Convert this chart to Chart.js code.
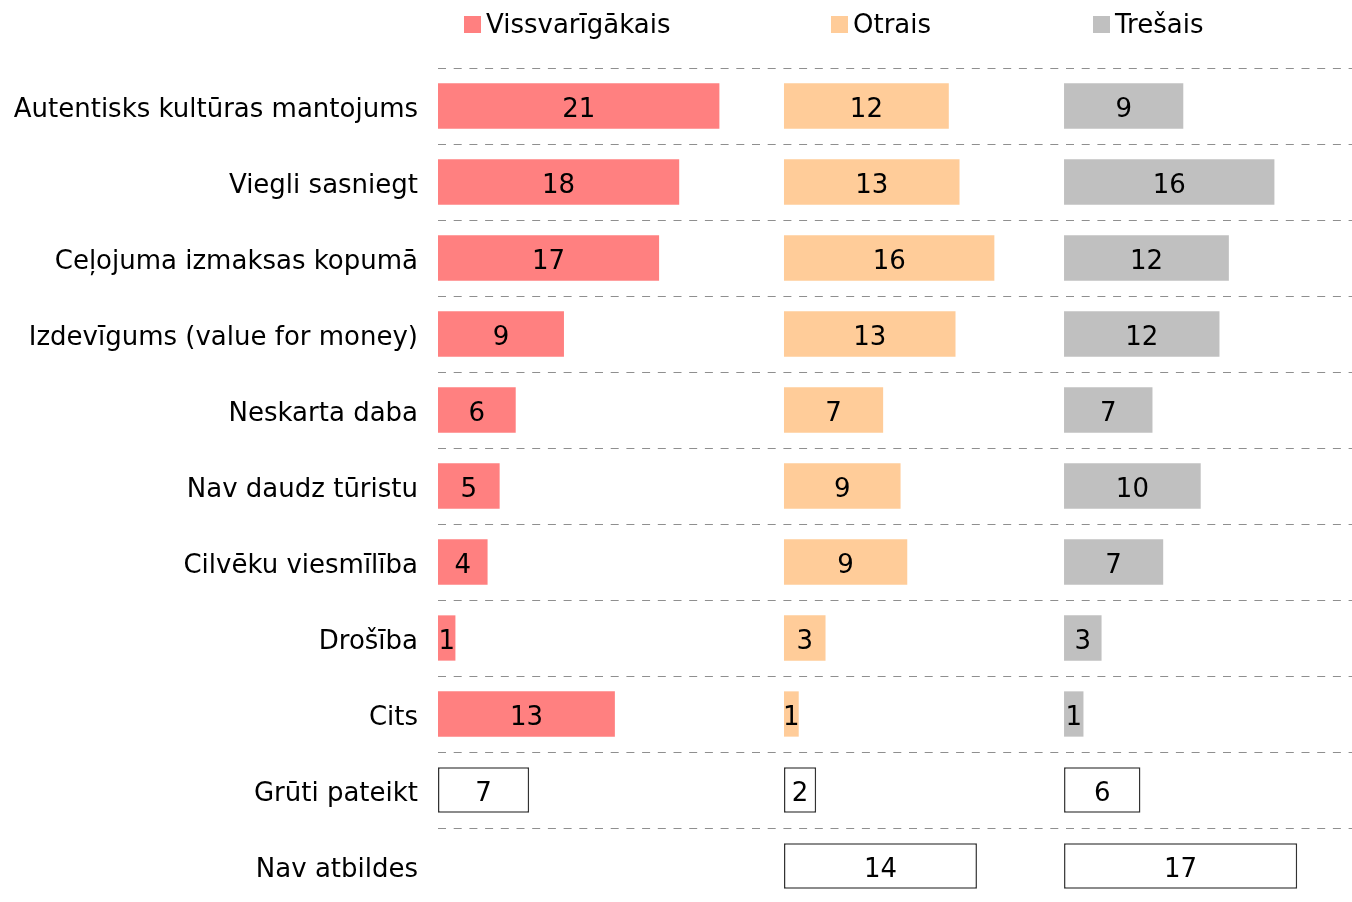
<!DOCTYPE html>
<html>
<head>
<meta charset="utf-8">
<script src="https://cdn.jsdelivr.net/npm/chart.js@4.4.1/dist/chart.umd.min.js"></script>
<style>
html,body{margin:0;padding:0;background:#fff;overflow:hidden;width:1352px;height:902px}
canvas{display:block}
</style>
</head>
<body>
<canvas id="c" width="1352" height="906" style="width:1352px;height:906px"></canvas>
<script>
// ---- data ----
const categories = [
  'Autentisks kultūras mantojums',
  'Viegli sasniegt',
  'Ceļojuma izmaksas kopumā',
  'Izdevīgums (value for money)',
  'Neskarta daba',
  'Nav daudz tūristu',
  'Cilvēku viesmīlība',
  'Drošība',
  'Cits',
  'Grūti pateikt',
  'Nav atbildes'
];
const seriesNames = ['Vissvarīgākais', 'Otrais', 'Trešais'];
const vissvarigakais = [21.0, 18.0, 16.5, 9.4, 5.8, 4.6, 3.7, 1.3, 13.2, 6.8, null];
const otrais         = [12.3, 13.1, 15.7, 12.8, 7.4, 8.7, 9.2, 3.1, 1.1, 2.4, 14.4];
const tresais        = [8.9, 15.7, 12.3, 11.6, 6.6, 10.2, 7.4, 2.8, 1.45, 5.7, 17.4];
const neutralCategories = ['Grūti pateikt', 'Nav atbildes'];

// ---- styling / layout ----
const seriesColors = ['#FF8080', '#FFCC99', '#C0C0C0'];
const panelStart = [0, 25.82, 46.72];   // where each panel begins on the shared value axis
const axisMax = 68.21;
const legendX = [464, 831, 1093];
const FONT = "'DejaVu Sans', Verdana, sans-serif";
const FONT_SIZE = 26;

const seriesValues = [vissvarigakais, otrais, tresais];

const datasets = seriesValues.map((vals, s) => ({
  label: seriesNames[s],
  rawValues: vals,
  data: vals.map(v => v == null ? null : [panelStart[s], panelStart[s] + v]),
  backgroundColor: categories.map(c => neutralCategories.includes(c) ? '#FFFFFF' : seriesColors[s]),
  borderColor: '#333333',
  borderWidth: categories.map(c => neutralCategories.includes(c) ? 1.5 : 0),
  borderSkipped: false,
  grouped: false,
  barPercentage: 0.596,
  categoryPercentage: 1.0
}));

const valueLabels = {
  id: 'valueLabels',
  afterDatasetsDraw(chart) {
    const ctx = chart.ctx;
    ctx.save();
    ctx.font = FONT_SIZE + 'px ' + FONT;
    ctx.fillStyle = '#000';
    ctx.textAlign = 'center';
    ctx.textBaseline = 'middle';
    chart.data.datasets.forEach((ds, di) => {
      const meta = chart.getDatasetMeta(di);
      meta.data.forEach((el, i) => {
        const v = ds.rawValues[i];
        if (v == null) return;
        ctx.fillText(String(Math.round(v)), (el.x + el.base) / 2, el.y + 4);
      });
    });
    ctx.restore();
  }
};

const panelLegend = {
  id: 'panelLegend',
  afterDraw(chart) {
    const ctx = chart.ctx;
    ctx.save();
    ctx.font = FONT_SIZE + 'px ' + FONT;
    ctx.textAlign = 'left';
    ctx.textBaseline = 'middle';
    seriesNames.forEach((name, s) => {
      ctx.fillStyle = seriesColors[s];
      ctx.fillRect(legendX[s], 16, 17, 17);
      ctx.fillStyle = '#000';
      ctx.fillText(name, legendX[s] + 22, 26);
    });
    ctx.restore();
  }
};

new Chart(document.getElementById('c'), {
  type: 'bar',
  data: { labels: categories, datasets },
  options: {
    indexAxis: 'y',
    responsive: false,
    animation: false,
    devicePixelRatio: 1,
    layout: { padding: { top: 68, right: 0, bottom: 2, left: 0 } },
    plugins: { legend: { display: false }, tooltip: { enabled: false } },
    scales: {
      x: { display: false, min: 0, max: axisMax },
      y: {
        grid: { color: '#8F8F8F', lineWidth: 1, drawTicks: false, offset: true },
        border: { display: false, dash: [8, 7.7] },
        ticks: { color: '#000', font: { family: FONT, size: FONT_SIZE }, padding: 20, autoSkip: false, labelOffset: 4 },
        afterFit(scale) { scale.width = 438; scale.paddingTop = 0; scale.paddingBottom = 0; }
      }
    }
  },
  plugins: [valueLabels, panelLegend]
});
</script>
</body>
</html>
